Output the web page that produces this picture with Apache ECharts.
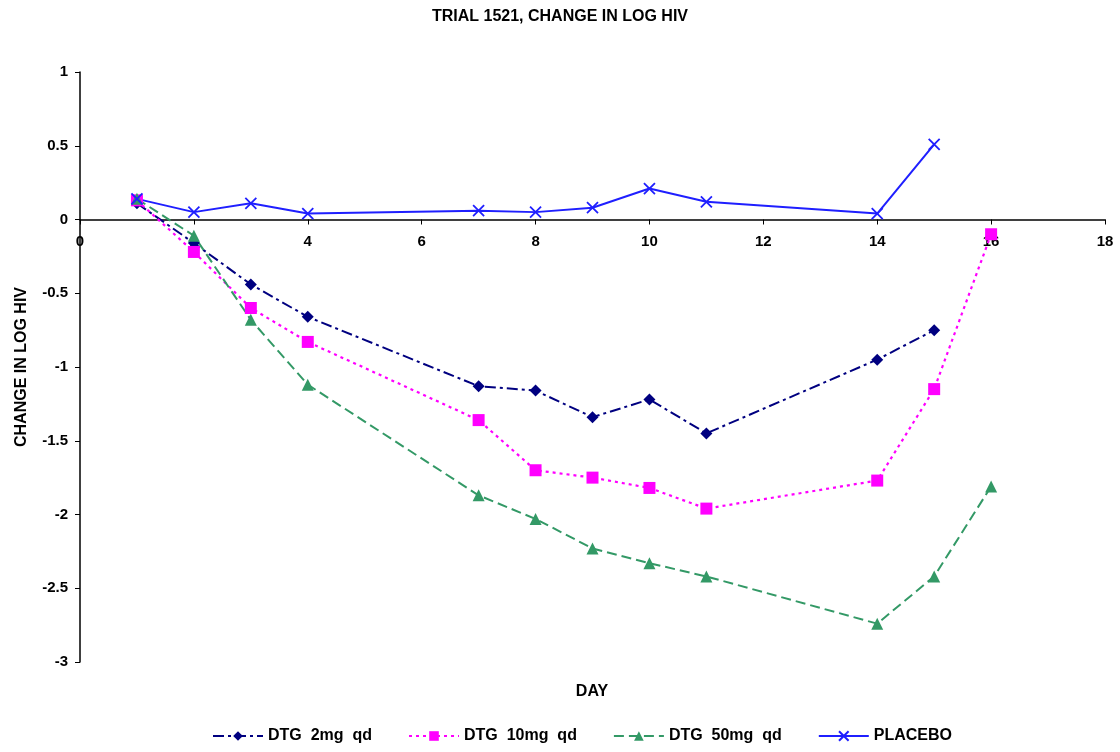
<!DOCTYPE html>
<html>
<head>
<meta charset="utf-8">
<script src="https://cdn.jsdelivr.net/npm/echarts@6/dist/echarts.min.js"></script>
<style>html,body{margin:0;padding:0;background:#fff}#c{width:1120px;height:752px}</style>
</head>
<body>
<div id="c"></div>
<script>
const daysA = [1, 2, 3, 4, 7, 8, 9, 10, 11, 14, 15];
const daysB = [1, 2, 3, 4, 7, 8, 9, 10, 11, 14, 15, 16];
const dtg2 = [0.11, -0.16, -0.44, -0.66, -1.13, -1.16, -1.34, -1.22, -1.45, -0.95, -0.75];
const dtg10 = [0.13, -0.22, -0.60, -0.83, -1.36, -1.70, -1.75, -1.82, -1.96, -1.77, -1.15, -0.10];
const dtg50 = [0.14, -0.11, -0.68, -1.12, -1.87, -2.03, -2.23, -2.33, -2.42, -2.74, -2.42, -1.81];
const placebo = [0.14, 0.05, 0.11, 0.04, 0.06, 0.05, 0.08, 0.21, 0.12, 0.04, 0.51];
const seriesNames = ['DTG  2mg  qd', 'DTG  10mg  qd', 'DTG  50mg  qd', 'PLACEBO'];

const pairs = (xs, ys) => ys.map((v, i) => [xs[i], v]);
const FONT = '"Liberation Sans Narrow", "Arial Narrow", "Liberation Sans", sans-serif';

const GRID_TOP = 72, GRID_BOTTOM = 90, H = 752;
const plotH = H - GRID_TOP - GRID_BOTTOM;
const zeroOffset = plotH * (3 / 4); // distance from bottom edge to y=0

const chart = echarts.init(document.getElementById('c'));
chart.setOption({
  animation: false,
  backgroundColor: '#fff',
  title: {
    text: 'TRIAL 1521, CHANGE IN LOG HIV',
    left: 'center', top: 4,
    textStyle: { fontFamily: FONT, fontSize: 16, fontWeight: 'bold', color: '#000' }
  },
  grid: { left: 80, right: 15, top: GRID_TOP, bottom: GRID_BOTTOM, containLabel: false },
  legend: {
    bottom: 3, left: 207,
    itemWidth: 50, itemHeight: 12, itemGap: 36,
    textStyle: { fontFamily: FONT, fontSize: 16, fontWeight: 'bold', color: '#000' },
    data: seriesNames
  },
  graphic: [{
    type: 'text', x: 592, y: 684,
    style: { text: 'DAY', fontFamily: FONT, fontSize: 16, fontWeight: 'bold', fill: '#000', align: 'center' }
  }],
  xAxis: {
    type: 'value', min: 0, max: 18, interval: 2,
    position: 'bottom', offset: -zeroOffset,
    axisLine: { onZero: false, lineStyle: { color: '#000', width: 1.5 } },
    axisTick: { show: true, length: 5, lineStyle: { color: '#000' } },
    axisLabel: { fontFamily: FONT, fontSize: 15, fontWeight: 'bold', color: '#000', margin: 15 },
    splitLine: { show: false }
  },
  yAxis: {
    type: 'value', min: -3, max: 1, interval: 0.5,
    name: 'CHANGE IN LOG HIV', nameLocation: 'middle', nameGap: 50,
    nameTextStyle: { fontFamily: FONT, fontSize: 16, fontWeight: 'bold', color: '#000' },
    axisLine: { show: true, lineStyle: { color: '#000', width: 1.5 } },
    axisTick: { show: true, length: 5, lineStyle: { color: '#000' } },
    axisLabel: { fontFamily: FONT, fontSize: 15, fontWeight: 'bold', color: '#000', margin: 12 },
    splitLine: { show: false }
  },
  series: [
    {
      name: seriesNames[0], type: 'line', data: pairs(daysA, dtg2),
      symbol: 'diamond', symbolSize: 12,
      lineStyle: { color: '#000080', width: 2, type: [11, 4, 3, 4] },
      itemStyle: { color: '#000080' }
    },
    {
      name: seriesNames[1], type: 'line', data: pairs(daysB, dtg10),
      symbol: 'rect', symbolSize: 12,
      lineStyle: { color: '#FF00FF', width: 2.2, type: [3, 4] },
      itemStyle: { color: '#FF00FF' }
    },
    {
      name: seriesNames[2], type: 'line', data: pairs(daysB, dtg50),
      symbol: 'triangle', symbolSize: 12,
      lineStyle: { color: '#339966', width: 2, type: [10, 5] },
      itemStyle: { color: '#339966' }
    },
    {
      name: seriesNames[3], type: 'line', data: pairs(daysA, placebo),
      symbol: 'path://M0,0L10,10M10,0L0,10', symbolSize: 11,
      lineStyle: { color: '#1F1FFF', width: 2 },
      itemStyle: { color: 'rgba(0,0,0,0)', borderColor: '#1F1FFF', borderWidth: 1.8 }
    }
  ]
});
</script>
</body>
</html>
